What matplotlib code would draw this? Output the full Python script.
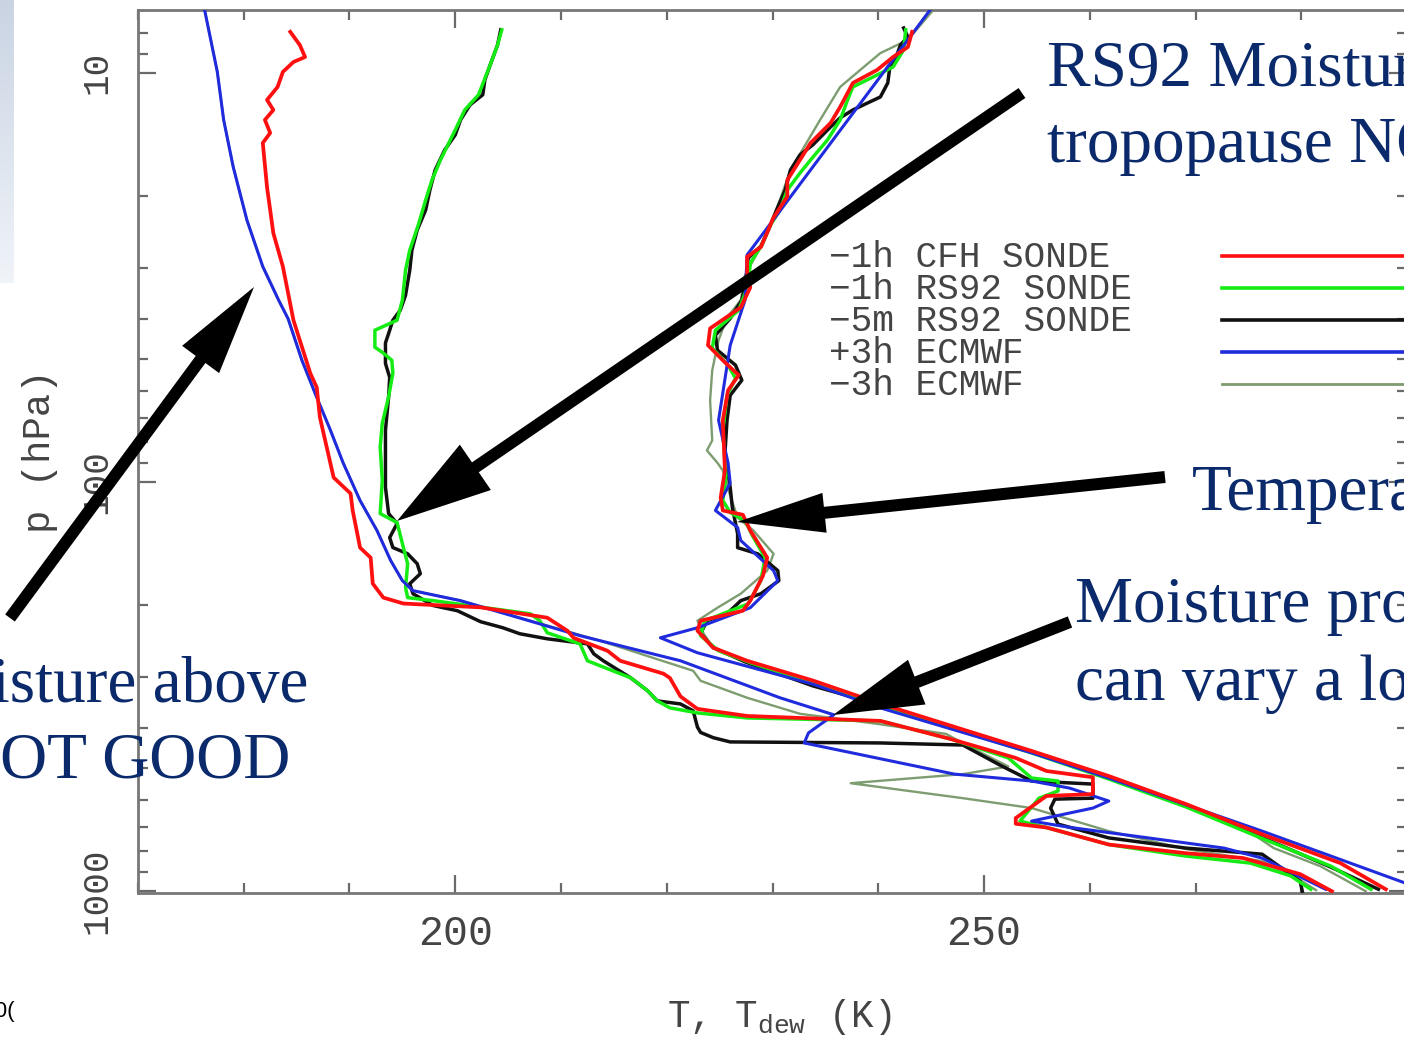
import numpy as np
import matplotlib
matplotlib.use("Agg")
import matplotlib.pyplot as plt
from matplotlib.patches import FancyArrow
from matplotlib.ticker import MultipleLocator, LogLocator, NullFormatter

plt.rcParams['font.family'] = ['Liberation Mono', 'DejaVu Sans Mono']
plt.rcParams['mathtext.fontset'] = 'custom'
plt.rcParams['mathtext.rm'] = 'Liberation Mono'
plt.rcParams['mathtext.it'] = 'Liberation Mono'

# ---- profiles: temperature / dew (frost) point in K, pressure in hPa ----
# -1h CFH sonde
cfh_dew_T = [184.4, 185.3, 185.8, 184.7, 183.7, 183.2, 182.2, 182.8, 182.0, 182.5, 181.8, 182.2,
             182.8, 183.7, 184.7, 186.3, 186.9, 187.2, 188.5, 190.1, 190.3, 191.0, 192.0, 192.2,
             193.2, 195.1, 202.4, 208.7, 210.6, 211.2, 214.4, 215.6, 219.7, 220.3, 221.3, 222.9,
             227.6, 240.2, 246.8, 253.0, 255.9, 260.3, 260.3, 255.9, 253.0, 253.0, 255.9, 261.8,
             269.1, 274.5, 279.9, 282.9]
cfh_dew_p = [7.95, 8.56, 9.16, 9.42, 9.96, 10.84, 11.66, 12.34, 13.05, 14.04, 14.86, 19.05,
             24.7, 29.8, 40.3, 54.4, 58.8, 69.6, 97.7, 106.9, 117.6, 145.0, 153.4, 177.5,
             192.1, 198.6, 202.9, 215.1, 231.4, 241.0, 259.1, 274.1, 294.8, 302.0, 335.0, 359.3,
             374.0, 384.5, 425.4, 473.6, 509.7, 528.0, 580.5, 586.7, 664.5, 686.0, 700.6, 771.2,
             809.7, 832.0, 911.0, 1003.0]
cfh_T = [243.2, 242.8, 241.4, 239.9, 237.6, 236.4, 235.5, 233.6, 232.6, 231.4, 231.4, 230.1,
         229.5, 228.9, 227.6, 227.6, 227.9, 227.0, 224.1, 223.9, 225.5, 226.8, 225.8, 225.3,
         225.5, 225.1, 225.3, 227.2, 227.9, 229.5, 229.1, 227.9, 227.2, 223.2, 222.9, 224.4,
         227.6, 233.9, 240.2, 247.8, 254.5, 261.8, 269.1, 276.3, 283.7, 288.0]
cfh_p = [7.95, 8.66, 9.16, 9.85, 10.6, 12.13, 13.27, 14.86, 16.35, 18.31, 20.1, 22.6,
         24.6, 26.7, 28.2, 30.9, 33.5, 37.5, 42.2, 46.4, 51.1, 54.9, 59.8, 70.8,
         93.9, 109.3, 117.6, 120.5, 131.7, 153.4, 169.8, 195.4, 206.8, 218.8, 231.4, 254.7,
         274.1, 306.8, 349.0, 402.0, 455.3, 524.4, 614.0, 728.0, 856.0, 992.0]

# -1h RS92 sonde
rs1_dew_T = [204.4, 204.0, 203.3, 202.2, 200.9, 200.0, 198.6, 197.8, 197.2, 196.5, 195.7, 195.3,
             195.0, 194.5, 192.4, 192.4, 193.2, 194.0, 194.1, 193.7, 193.1, 192.9, 193.1, 192.9,
             194.5, 195.1, 195.5, 195.3, 195.5, 197.9, 207.1, 208.0, 208.7, 211.8, 212.5, 214.9,
             216.6, 218.2, 219.1, 220.3, 222.9, 227.6, 240.2, 246.8, 252.3, 254.5, 257.0, 257.0,
             255.2, 253.4, 255.9, 261.8, 269.1, 275.2, 279.0, 280.9]
rs1_dew_p = [7.86, 8.56, 9.58, 11.33, 12.34, 13.81, 16.35, 18.31, 20.49, 23.6, 27.16, 30.4,
             36.0, 40.3, 42.64, 46.9, 48.5, 50.5, 54.3, 62.0, 72.0, 82.3, 99.3, 119.7,
             125.9, 145.0, 158.7, 181.6, 192.1, 195.4, 210.4, 218.8, 234.1, 249.2, 274.1, 290.0,
             301.8, 324.6, 343.5, 357.3, 367.6, 378.1, 384.5, 425.4, 473.6, 530.4, 539.3, 570.6,
             594.0, 675.8, 700.6, 771.2, 823.0, 856.0, 920.0, 992.0]
rs1_T = [242.6, 242.4, 241.4, 239.5, 237.6, 237.1, 236.4, 235.2, 233.6, 232.6, 231.4, 230.7,
         229.8, 229.0, 227.9, 227.7, 226.8, 224.6, 224.3, 225.8, 226.5, 225.7, 225.3, 225.6,
         225.3, 226.0, 227.4, 228.1, 229.3, 228.9, 227.7, 223.6, 223.2, 224.9, 227.9, 234.1,
         240.2, 247.8, 254.5, 261.8, 269.1, 276.3, 282.8, 286.6]
rs1_p = [7.86, 8.8, 9.69, 10.25, 10.84, 11.66, 13.05, 14.61, 16.35, 17.6, 19.37, 21.68,
         23.6, 26.4, 29.2, 33.1, 38.1, 42.64, 47.2, 51.9, 55.9, 61.5, 74.9, 96.5,
         111.2, 119.0, 124.5, 135.5, 153.4, 174.6, 199.0, 218.8, 238.0, 259.1, 277.0, 313.0,
         353.0, 406.8, 460.3, 533.4, 624.0, 745.0, 871.0, 992.0]

# -5m RS92 sonde
rs5_dew_T = [204.3, 204.0, 203.3, 202.8, 202.6, 201.4, 200.5, 200.0, 199.0, 198.1, 197.6, 197.2,
             196.4, 195.9, 195.7, 195.3, 194.8, 194.1, 193.8, 193.4, 193.4, 193.8, 193.7, 193.4,
             193.4, 193.4, 193.7, 194.5, 193.8, 194.1, 195.5, 196.4, 196.7, 195.7, 196.0, 197.9,
             200.2, 202.4, 204.5, 206.1, 208.7, 212.5, 213.1, 214.0, 216.6, 218.2, 219.1, 221.3,
             222.5, 222.9, 223.2, 224.4, 226.0, 240.2, 248.0, 251.6, 254.5, 260.3, 260.3, 256.7,
             256.3, 257.0, 261.8, 269.1, 276.3, 279.9, 280.1]
rs5_dew_p = [7.86, 8.56, 9.58, 10.42, 11.33, 11.99, 13.05, 14.2, 15.46, 17.3, 19.37, 21.68,
             24.27, 27.16, 30.4, 35.0, 38.1, 40.3, 42.64, 45.8, 51.4, 55.6, 62.0, 74.9,
             90.0, 103.3, 119.7, 126.6, 137.0, 144.9, 150.1, 158.7, 167.9, 177.6, 187.9, 200.8,
             206.8, 220.0, 227.6, 235.4, 242.2, 249.2, 263.6, 274.1, 301.8, 324.6, 343.5, 349.5,
             363.4, 398.0, 410.3, 422.6, 432.8, 435.3, 440.4, 494.5, 539.3, 548.7, 594.0, 597.2,
             628.0, 687.4, 742.9, 786.7, 814.2, 948.0, 1003.0]
rs5_T = [242.4, 242.8, 242.1, 241.6, 241.1, 240.9, 240.2, 239.0, 237.6, 236.4, 235.5, 233.8,
         232.6, 231.7, 231.2, 230.3, 229.6, 228.9, 227.7, 227.5, 227.1, 226.0, 224.6, 224.8,
         226.5, 227.1, 226.0, 225.7, 225.5, 226.0, 226.2, 226.7, 226.7, 228.6, 230.5, 230.6,
         228.9, 227.0, 225.7, 223.8, 223.2, 224.4, 227.4, 233.8, 240.2, 247.8, 254.5, 261.8,
         269.1, 276.3, 282.8, 287.3]
rs5_p = [7.78, 8.18, 8.56, 9.31, 9.68, 10.6, 11.47, 11.86, 12.34, 12.9, 13.57, 15.03,
         15.89, 17.3, 19.37, 21.92, 24.27, 26.57, 28.4, 32.17, 36.0, 39.9, 43.86, 47.73,
         51.9, 56.5, 61.5, 70.8, 85.3, 103.3, 115.6, 134.0, 145.0, 150.1, 165.0, 174.6,
         187.9, 195.4, 210.3, 218.8, 235.4, 254.7, 275.7, 315.6, 351.2, 404.5, 457.8, 527.2,
         620.6, 740.7, 875.6, 992.0]

# +3h ECMWF
ec3_dew_T = [176.3, 177.5, 178.1, 179.0, 180.3, 181.8, 183.3, 184.2, 185.5, 186.9, 188.2, 189.4,
             191.0, 192.6, 193.9, 195.0, 196.0, 200.5, 211.8, 221.3, 230.7, 235.8, 233.4, 233.0,
             247.2, 254.5, 258.1, 261.8, 260.3, 254.5, 258.1, 272.7, 276.3, 282.3]
ec3_dew_p = [7.03, 9.96, 13.05, 16.99, 22.94, 29.8, 36.0, 40.0, 50.5, 62.2, 74.9, 90.0,
             111.2, 131.7, 156.0, 174.6, 184.7, 195.4, 238.0, 274.1, 337.5, 371.5, 411.4, 435.3,
             518.8, 539.3, 561.3, 603.7, 628.0, 675.8, 700.0, 786.7, 832.5, 992.0]
ec3_T = [244.9, 227.6, 227.4, 226.0, 224.9, 225.8, 226.0, 224.6, 226.7, 227.0, 230.1, 230.5,
         227.9, 222.9, 219.4, 222.9, 233.9, 240.2, 254.5, 261.8, 276.3, 289.7, 291.3]
ec3_p = [7.03, 27.9, 36.0, 46.4, 70.8, 90.0, 100.8, 117.6, 129.4, 139.3, 165.0, 174.6,
         203.3, 227.6, 240.8, 262.0, 313.0, 357.4, 460.3, 530.4, 715.0, 955.0, 1000.0]

# -3h ECMWF (upper dew point lies under the +3h curve)
ecm3_dew_T = [176.3, 177.5, 178.1, 179.0, 180.3, 181.8, 183.3, 184.2, 185.5, 186.9, 188.2, 189.4,
              191.0, 192.6, 193.9, 195.0, 196.0, 200.5, 213.7, 222.5, 223.2, 227.6, 232.6, 239.9,
              246.4, 249.0, 252.3, 248.0, 237.4, 248.0, 254.5, 261.8, 269.1, 276.3, 279.9, 281.4]
ecm3_dew_p = [7.03, 9.96, 13.05, 16.99, 22.94, 29.8, 36.0, 40.0, 50.5, 62.2, 74.9, 90.0,
              111.2, 131.7, 156.0, 174.6, 184.7, 195.4, 244.9, 290.0, 306.8, 337.5, 369.4, 390.9,
              413.6, 450.0, 497.0, 518.8, 546.0, 594.0, 628.0, 715.0, 791.0, 847.0, 942.0, 997.0]
ecm3_T = [245.2, 242.8, 240.2, 238.3, 236.4, 234.5, 233.1, 231.7, 230.7, 229.8, 228.7, 227.4,
          227.0, 225.7, 224.9, 224.3, 224.1, 224.3, 223.8, 224.8, 225.3, 226.0, 226.7, 228.2,
          230.1, 229.5, 227.0, 224.8, 222.9, 223.5, 224.4, 227.6, 233.9, 240.2, 247.8, 254.5,
          261.8, 269.1, 274.3, 277.4, 281.8, 286.1]
ecm3_p = [7.03, 8.32, 8.96, 9.85, 10.84, 13.05, 15.03, 17.3, 20.49, 23.6, 27.16, 31.3,
          36.0, 39.7, 45.1, 53.4, 63.3, 79.3, 83.9, 90.0, 93.9, 108.1, 122.4, 131.7,
          150.1, 165.0, 187.9, 203.3, 218.8, 235.4, 254.7, 277.3, 308.8, 351.2, 406.8, 455.3,
          527.2, 620.6, 695.0, 786.7, 871.0, 1003.0]

labels = ['\u22121h CFH SONDE', '\u22121h RS92 SONDE', '\u22125m RS92 SONDE', '+3h ECMWF', '\u22123h ECMWF']
colors = ['#ff1010', '#14ec14', '#111111', '#1f2bdc', '#7d9c70']

W, H = 1404, 1043
fig = plt.figure(figsize=(W / 100, H / 100), dpi=100)
fig.patch.set_facecolor('white')

ax = fig.add_axes([138 / W, 1 - 893 / H, 1269 / W, 883 / H])
ax.set_yscale('log')
ax.set_xlim(170, 290)
ax.set_ylim(1013, 7.03)

# drawing order: olive under, red on top
curves = [
    (ecm3_dew_T, ecm3_dew_p, colors[4], 1.7, 2),
    (ecm3_T, ecm3_p, colors[4], 1.7, 2),
    (rs5_dew_T, rs5_dew_p, colors[2], 2.5, 3),
    (rs5_T, rs5_p, colors[2], 2.5, 3),
    (rs1_dew_T, rs1_dew_p, colors[1], 2.5, 4),
    (rs1_T, rs1_p, colors[1], 2.5, 4),
    (ec3_dew_T, ec3_dew_p, colors[3], 2.2, 5),
    (ec3_T, ec3_p, colors[3], 2.2, 5),
    (cfh_dew_T, cfh_dew_p, colors[0], 2.7, 6),
    (cfh_T, cfh_p, colors[0], 2.7, 6),
]
for T, p, c, lw, z in curves:
    ax.plot(T, p, color=c, lw=lw, zorder=z, solid_joinstyle='round')

# legend: text on the left, sample lines on the right
for i, (lab, c) in enumerate(zip(labels, colors)):
    y = 0.7214 - i * 0.03624
    ax.text(0.5445, y - 0.0122, lab, transform=ax.transAxes, fontsize=26,
            color='#444444', va='baseline', ha='left')
    ax.plot([0.854, 0.997], [y, y], transform=ax.transAxes, color=c,
            lw=2.6 if i != 4 else 2.0, zorder=7)

# axes cosmetics
for s in ax.spines.values():
    s.set_color('#777777')
    s.set_linewidth(2)
ax.set_xticks([200, 250], labels=['200', '250'])
ax.xaxis.set_minor_locator(MultipleLocator(10))
ax.set_yticks([10, 100, 1000], labels=['10', '100', '1000'])
ax.yaxis.set_minor_locator(LogLocator(base=10, subs=np.arange(2, 10), numticks=20))
ax.yaxis.set_minor_formatter(NullFormatter())
ax.tick_params(which='both', direction='in', top=True, right=True, color='#6a6a6a', width=1.6)
ax.tick_params(which='major', length=13)
ax.tick_params(which='minor', length=7)
ax.tick_params(axis='x', which='major', labelsize=30, pad=15, labelcolor='#444444')
ax.tick_params(axis='y', which='major', labelsize=26, pad=17, labelcolor='#444444', labelrotation=90)
for t in ax.get_yticklabels():
    t.set_va('center')

ax.set_xlabel('T, T$_{\\mathrm{dew}}$ (K)', fontsize=27, color='#444444')
ax.xaxis.set_label_coords(0.505, -0.118)
ax.set_ylabel('p (hPa)', fontsize=28, color='#444444')
ax.yaxis.set_label_coords(-0.063, 0.5)

# overlay in pixel coordinates for the slide annotations
ov = fig.add_axes([0, 0, 1, 1], zorder=10)
grad = np.linspace(0, 1, 100)[:, None, None]
top_c = np.array([0.79, 0.83, 0.89])
bot_c = np.array([0.94, 0.955, 0.975])
ov.imshow(top_c * (1 - grad) + bot_c * grad, extent=[0, 14, 283, 0], aspect='auto', zorder=0)
ov.set_xlim(0, W)
ov.set_ylim(H, 0)
ov.axis('off')

arrows = [
    ((1022, 93), (397, 521), 55, 95),
    ((10, 618), (254, 287), 46, 90),
    ((1165, 477), (737, 522), 40, 88),
    ((1070, 622), (833, 715), 48, 90),
]
for (x0, y0), (x1, y1), hw, hl in arrows:
    ov.add_patch(FancyArrow(x0, y0, x1 - x0, y1 - y0, width=12, head_width=hw, head_length=hl,
                            length_includes_head=True, color='black', lw=0, zorder=3))

notes = [
    ('RS92 Moisture', 1047, 85, 'left'),
    ('tropopause NOT', 1047, 162, 'left'),
    ('Temperature', 1192, 510, 'left'),
    ('Moisture profiles', 1075, 622, 'left'),
    ('can vary a lot', 1075, 700, 'left'),
    ('Moisture above', 308, 702, 'right'),
    ('NOT GOOD', 290, 778, 'right'),
]
for s, x, y, ha in notes:
    ov.text(x, y, s, ha=ha, va='baseline', fontsize=47, color='#0a2a6b',
            family='Liberation Serif', zorder=4)

ov.text(16, 1012, '200(', ha='right', va='center', fontsize=16, color='black',
        family='Liberation Sans')

fig.savefig('out.png', dpi=100)
